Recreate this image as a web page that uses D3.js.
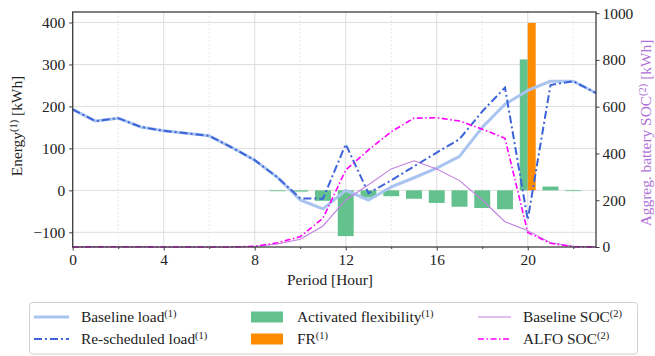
<!DOCTYPE html>
<html>
<head>
<meta charset="utf-8">
<script src="https://cdn.jsdelivr.net/npm/d3@7"></script>
<style>
  body { margin: 0; background: #fff; }
</style>
</head>
<body>
<svg id="chart" width="655" height="356" font-family="'Liberation Serif', 'Times New Roman', 'DejaVu Serif', serif"></svg>
<script>
// hourly values
var hours = d3.range(0, 24);
var baselineLoad = [193, 165, 172, 151, 142, 136, 130, 102, 72, 31, -23, -44, 0, -23, 8, 30, 53, 81, 150, 205, 238, 260, 260, 232];
var rescheduledLoad = [193, 165, 172, 151, 142, 136, 130, 102, 72, 31, -19, -20, 110, -7, 24, 57, 90, 122, 188, 245, -70, 251, 260, 232];
var activatedFlex = [0, 0, 0, 0, 0, 0, 0, 0, 0, -2, -3, -25, -109, -17, -14, -20, -30, -39, -42, -45, 312, 9, -1, 0];
var frValues = [0, 0, 0, 0, 0, 0, 0, 0, 0, 0, 0, 0, 0, 0, 0, 0, 0, 0, 0, 0, 399, 0, 0, 0];
var baselineSOC = [0, 0, 0, 0, 0, 0, 0, 0, 2, 13, 33, 90, 201, 266, 334, 369, 334, 284, 201, 108, 70, 18, 3, 0];
var alfoSOC = [0, 1, 1, 1, 0, 0, 0, 0, 3, 18, 44, 123, 329, 415, 493, 551, 553, 539, 504, 465, 62, 16, 1, 0];

var xTicks = [0, 4, 8, 12, 16, 20];
var xMinor = [2, 6, 10, 14, 18, 22];
var leftTicks = [-100, 0, 100, 200, 300, 400];
var rightTicks = [0, 200, 400, 600, 800, 1000];

var FONT = "'Liberation Serif', 'Times New Roman', 'DejaVu Serif', serif";
var FS = 15.4;
var svg = d3.select("#chart");
var pLeft = 72.7, pRight = 596, pTop = 12, pBottom = 247;

var x = d3.scaleLinear().domain([0, 23]).range([pLeft, pRight]);
var yL = d3.scaleLinear().domain([-135, 425]).range([pBottom, pTop]);
var yR = d3.scaleLinear().domain([0, 1005]).range([pBottom, pTop]);

var barW = 0.7;

// grid
var grid = svg.append("g");
grid.selectAll("line.h").data(leftTicks).enter().append("line")
  .attr("x1", pLeft).attr("x2", pRight)
  .attr("y1", d => yL(d)).attr("y2", d => yL(d))
  .attr("stroke", "#d9d9d9").attr("stroke-width", 0.9);
grid.selectAll("line.v").data(xTicks).enter().append("line")
  .attr("x1", d => x(d)).attr("x2", d => x(d))
  .attr("y1", pTop).attr("y2", pBottom)
  .attr("stroke", "#d9d9d9").attr("stroke-width", 0.9);
grid.selectAll("line.vm").data(xMinor).enter().append("line")
  .attr("x1", d => x(d)).attr("x2", d => x(d))
  .attr("y1", pTop).attr("y2", pBottom)
  .attr("stroke", "#e2e2e2").attr("stroke-width", 0.8)
  .attr("stroke-dasharray", "2,2");

var plot = svg.append("g");

// activated flexibility bars (half width where FR shares the hour)
plot.selectAll("rect.flex")
  .data(hours.filter(h => activatedFlex[h] !== 0))
  .enter().append("rect")
  .attr("x", h => x(h - barW / 2))
  .attr("width", h => frValues[h] ? x(barW / 2) - x(0) : x(barW) - x(0))
  .attr("y", h => yL(Math.max(0, activatedFlex[h])))
  .attr("height", h => Math.max(Math.abs(yL(activatedFlex[h]) - yL(0)), 0.8))
  .attr("fill", "#62c18d");

plot.selectAll("rect.fr")
  .data(hours.filter(h => frValues[h] !== 0))
  .enter().append("rect")
  .attr("x", h => x(h))
  .attr("width", x(barW / 2) - x(0))
  .attr("y", h => yL(frValues[h]))
  .attr("height", h => yL(0) - yL(frValues[h]))
  .attr("fill", "#ff8c00");

var lineL = series => d3.line().x((d, i) => x(hours[i])).y(d => yL(d))(series);
var lineR = series => d3.line().x((d, i) => x(hours[i])).y(d => yR(d))(series);

plot.append("path").attr("d", lineL(baselineLoad))
  .attr("fill", "none").attr("stroke", "#a9c5ef").attr("stroke-width", 3)
  .attr("stroke-linejoin", "round");
plot.append("path").attr("d", lineL(rescheduledLoad))
  .attr("fill", "none").attr("stroke", "#3d63da").attr("stroke-width", 2)
  .attr("stroke-dasharray", "8,3,2,3");

plot.append("path").attr("d", lineR(baselineSOC))
  .attr("fill", "none").attr("stroke", "#c27fe0").attr("stroke-width", 1.1);
plot.append("path").attr("d", lineR(alfoSOC))
  .attr("fill", "none").attr("stroke", "#ff00ff").attr("stroke-width", 1.6)
  .attr("stroke-dasharray", "6,2.5,1.5,2.5");

// frame
svg.append("rect")
  .attr("x", pLeft).attr("y", pTop).attr("width", pRight - pLeft).attr("height", pBottom - pTop)
  .attr("fill", "none").attr("stroke", "#3c3c3c").attr("stroke-width", 1.3);

// axes
var fmt = d => d < 0 ? "\u2212" + Math.abs(d) : String(d);
var axL = svg.append("g").attr("transform", `translate(${pLeft},0)`)
  .call(d3.axisLeft(yL).tickValues(leftTicks).tickFormat(fmt).tickSize(3.5).tickPadding(4));
var axR = svg.append("g").attr("transform", `translate(${pRight},0)`)
  .call(d3.axisRight(yR).tickValues(rightTicks).tickFormat(fmt).tickSize(3.5).tickPadding(3));
var axB = svg.append("g").attr("transform", `translate(0,${pBottom})`)
  .call(d3.axisBottom(x).tickValues(xTicks).tickFormat(fmt).tickSize(3.5).tickPadding(4));
var axBm = svg.append("g").attr("transform", `translate(0,${pBottom})`)
  .call(d3.axisBottom(x).tickValues(xMinor).tickSize(2).tickFormat(""));

[axL, axR, axB, axBm].forEach(a => {
  a.attr("font-family", FONT).attr("font-size", FS);
  a.select(".domain").remove();
  a.selectAll(".tick line").attr("stroke", "#3c3c3c").attr("stroke-width", 1);
  a.selectAll(".tick text").attr("fill", "#222");
});

// text with a raised (n) marker
function supText(sel, parts) {
  sel.attr("font-family", FONT).attr("fill", sel.attr("fill") || "#222");
  parts.forEach(p => {
    sel.append("tspan")
      .attr("dy", p.sup ? -5.5 : (p.back ? 5.5 : 0))
      .attr("font-size", p.sup ? 10.5 : null)
      .text(p.t);
  });
  return sel;
}

supText(svg.append("text")
  .attr("transform", "translate(22,126) rotate(-90)")
  .attr("text-anchor", "middle").attr("font-size", FS),
  [{ t: "Energy" }, { t: "(1)", sup: true }, { t: " [kWh]", back: true }]);

supText(svg.append("text")
  .attr("transform", "translate(651,133) rotate(-90)")
  .attr("text-anchor", "middle").attr("font-size", FS).attr("fill", "#b070d8"),
  [{ t: "Aggreg.  battery SOC" }, { t: "(2)", sup: true }, { t: " [kWh]", back: true }]);

svg.append("text")
  .attr("x", 330).attr("y", 285)
  .attr("text-anchor", "middle").attr("font-size", FS)
  .attr("font-family", FONT).attr("fill", "#222")
  .text("Period [Hour]");

// legend
var lg = svg.append("g");
lg.append("rect")
  .attr("x", 29.5).attr("y", 302.5).attr("width", 608).attr("height", 51.5)
  .attr("rx", 3).attr("fill", "#fff").attr("stroke", "#d0d0d0").attr("stroke-width", 1);

var rows = [317, 339];
var legendItems = [
  { col: 0, row: 0, type: "line", color: "#a9c5ef", w: 3, dash: null, label: "Baseline load", sup: "(1)" },
  { col: 0, row: 1, type: "line", color: "#3d63da", w: 2, dash: "8,3,2,3", label: "Re-scheduled load", sup: "(1)" },
  { col: 1, row: 0, type: "patch", color: "#62c18d", label: "Activated flexibility", sup: "(1)" },
  { col: 1, row: 1, type: "patch", color: "#ff8c00", label: "FR", sup: "(1)" },
  { col: 2, row: 0, type: "line", color: "#c27fe0", w: 1.1, dash: null, label: "Baseline SOC", sup: "(2)" },
  { col: 2, row: 1, type: "line", color: "#ff00ff", w: 1.6, dash: "6,2.5,1.5,2.5", label: "ALFO SOC", sup: "(2)" }
];
var handleX = [[34, 69], [251, 283], [478, 511]];
var textX = [81, 297, 523];

legendItems.forEach(it => {
  var cy = rows[it.row];
  var hx = handleX[it.col];
  if (it.type === "line") {
    lg.append("line").attr("x1", hx[0]).attr("x2", hx[1]).attr("y1", cy).attr("y2", cy)
      .attr("stroke", it.color).attr("stroke-width", it.w)
      .attr("stroke-dasharray", it.dash);
  } else {
    lg.append("rect").attr("x", hx[0]).attr("y", cy - 5.5)
      .attr("width", hx[1] - hx[0]).attr("height", 11).attr("fill", it.color);
  }
  supText(lg.append("text").attr("x", textX[it.col]).attr("y", cy + 5)
    .attr("font-size", FS),
    [{ t: it.label }, { t: it.sup, sup: true }]);
});
</script>
</body>
</html>
